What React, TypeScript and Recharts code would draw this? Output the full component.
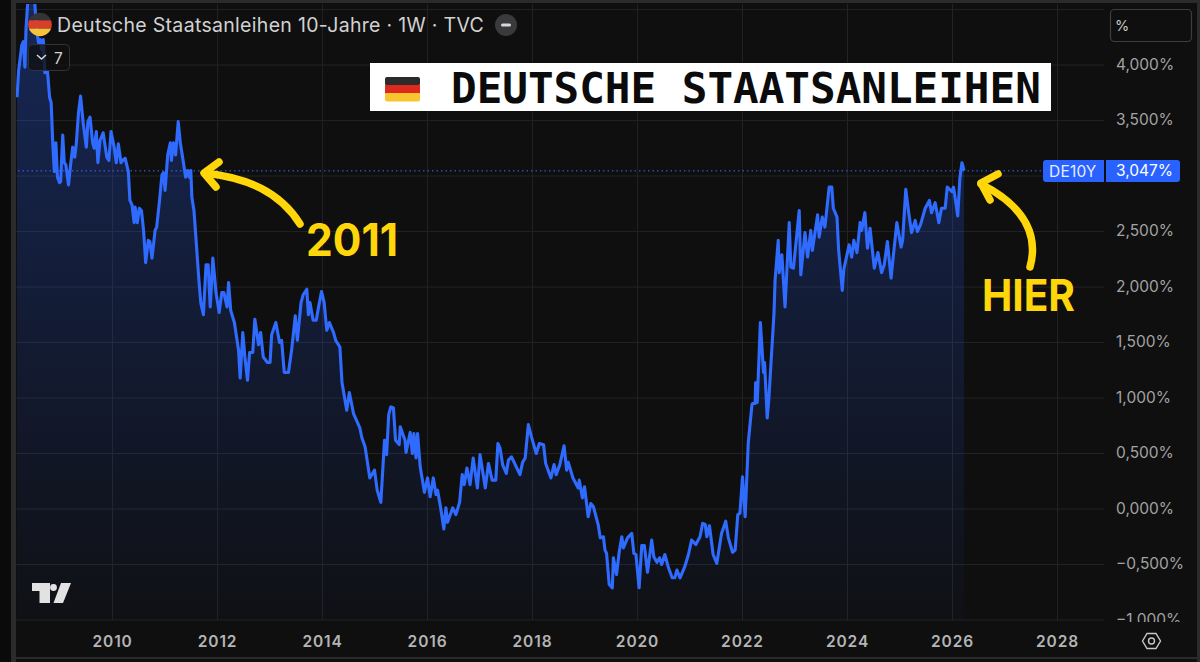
import {
  Area,
  CartesianGrid,
  ComposedChart,
  ReferenceLine,
  XAxis,
  YAxis,
} from "recharts"

const FONT = "Inter, 'Noto Sans', sans-serif"
const YELLOW = "#ffd60a"
const BLUE = "#2f6bff"

const YEAR_TICKS = [2010, 2012, 2014, 2016, 2018, 2020, 2022, 2024, 2026, 2028]
const YIELD_TICKS = [-1, -0.5, 0, 0.5, 1, 1.5, 2, 2.5, 3, 3.5, 4, 4.5]
const LAST_YIELD = 3.047

// decimal year of each reading
const dates = [
  2008.18, 2008.21, 2008.27, 2008.3, 2008.33, 2008.35, 2008.38, 2008.43, 2008.49, 2008.52,
  2008.56, 2008.59, 2008.62, 2008.65, 2008.68, 2008.71, 2008.76, 2008.8, 2008.83, 2008.86,
  2008.89, 2008.92, 2008.95, 2008.99, 2009.01, 2009.05, 2009.08, 2009.11, 2009.16, 2009.2,
  2009.24, 2009.28, 2009.31, 2009.35, 2009.39, 2009.44, 2009.5, 2009.53, 2009.57, 2009.62,
  2009.65, 2009.69, 2009.72, 2009.76, 2009.82, 2009.89, 2009.93, 2009.97, 2010.03, 2010.07,
  2010.11, 2010.16, 2010.19, 2010.24, 2010.3, 2010.33, 2010.37, 2010.41, 2010.43, 2010.47,
  2010.51, 2010.55, 2010.59, 2010.63, 2010.68, 2010.71, 2010.75, 2010.81, 2010.84, 2010.89,
  2010.94, 2010.97, 2011.0, 2011.05, 2011.1, 2011.12, 2011.16, 2011.2, 2011.25, 2011.29,
  2011.35, 2011.39, 2011.43, 2011.46, 2011.49, 2011.51, 2011.55, 2011.6, 2011.64, 2011.68,
  2011.73, 2011.78, 2011.82, 2011.86, 2011.91, 2011.97, 2012.03, 2012.08, 2012.12, 2012.18,
  2012.21, 2012.25, 2012.32, 2012.4, 2012.43, 2012.48, 2012.52, 2012.57, 2012.61, 2012.67,
  2012.71, 2012.78, 2012.82, 2012.87, 2012.95, 2013.0, 2013.03, 2013.11, 2013.18, 2013.22,
  2013.27, 2013.35, 2013.41, 2013.48, 2013.52, 2013.59, 2013.63, 2013.7, 2013.73, 2013.76,
  2013.82, 2013.88, 2013.92, 2013.98, 2014.03, 2014.08, 2014.13, 2014.21, 2014.25, 2014.33,
  2014.37, 2014.46, 2014.51, 2014.59, 2014.71, 2014.75, 2014.81, 2014.9, 2014.99, 2015.04,
  2015.11, 2015.18, 2015.22, 2015.26, 2015.3, 2015.35, 2015.39, 2015.46, 2015.48, 2015.57,
  2015.59, 2015.67, 2015.71, 2015.74, 2015.78, 2015.81, 2015.86, 2015.94, 2016.0, 2016.05,
  2016.11, 2016.16, 2016.19, 2016.25, 2016.31, 2016.35, 2016.38, 2016.48, 2016.54, 2016.61,
  2016.66, 2016.7, 2016.75, 2016.81, 2016.87, 2016.95, 2017.0, 2017.1, 2017.16, 2017.23,
  2017.3, 2017.34, 2017.38, 2017.43, 2017.5, 2017.54, 2017.6, 2017.67, 2017.76, 2017.81,
  2017.86, 2017.92, 2017.98, 2018.07, 2018.13, 2018.21, 2018.25, 2018.35, 2018.41, 2018.45,
  2018.52, 2018.6, 2018.65, 2018.68, 2018.77, 2018.87, 2018.89, 2018.95, 2018.99, 2019.06,
  2019.11, 2019.16, 2019.25, 2019.29, 2019.35, 2019.38, 2019.41, 2019.46, 2019.52, 2019.54,
  2019.6, 2019.65, 2019.7, 2019.73, 2019.81, 2019.89, 2019.93, 2019.97, 2020.03, 2020.08,
  2020.13, 2020.19, 2020.27, 2020.31, 2020.37, 2020.42, 2020.46, 2020.52, 2020.59, 2020.66,
  2020.71, 2020.75, 2020.81, 2020.9, 2020.97, 2021.03, 2021.11, 2021.19, 2021.24, 2021.29,
  2021.32, 2021.37, 2021.44, 2021.51, 2021.6, 2021.68, 2021.73, 2021.81, 2021.86, 2021.91,
  2021.95, 2022.0, 2022.05, 2022.11, 2022.18, 2022.19, 2022.24, 2022.25, 2022.28, 2022.34,
  2022.4, 2022.42, 2022.47, 2022.5, 2022.6, 2022.62, 2022.68, 2022.7, 2022.75, 2022.81,
  2022.89, 2022.92, 2022.97, 2023.08, 2023.11, 2023.19, 2023.24, 2023.3, 2023.33, 2023.43,
  2023.46, 2023.52, 2023.57, 2023.65, 2023.7, 2023.73, 2023.8, 2023.83, 2023.9, 2023.93,
  2024.03, 2024.08, 2024.12, 2024.18, 2024.24, 2024.27, 2024.33, 2024.38, 2024.43, 2024.51,
  2024.58, 2024.65, 2024.7, 2024.76, 2024.83, 2024.87, 2024.94, 2025.02, 2025.05, 2025.11,
  2025.16, 2025.22, 2025.29, 2025.33, 2025.39, 2025.48, 2025.56, 2025.6, 2025.67, 2025.74,
  2025.79, 2025.86, 2025.9, 2025.99, 2026.02, 2026.1, 2026.14, 2026.18, 2026.22,
]

const yields = [
  3.71, 3.95, 4.18, 4.21, 3.98, 4.32, 4.54, 4.68, 4.7, 4.54,
  4.29, 4.2, 4.23, 4.14, 4.23, 3.93, 3.94, 3.71, 3.66, 3.3,
  3.04, 3.3, 2.99, 2.94, 2.95, 3.37, 3.12, 3.1, 2.92, 3.1,
  3.26, 3.17, 3.3, 3.57, 3.72, 3.48, 3.26, 3.49, 3.53, 3.3,
  3.25, 3.4, 3.12, 3.32, 3.39, 3.17, 3.14, 3.4, 3.26, 3.12,
  3.29, 3.12, 3.14, 3.16, 3.04, 2.78, 2.74, 2.58, 2.72, 2.58,
  2.71, 2.69, 2.51, 2.22, 2.42, 2.41, 2.26, 2.51, 2.54, 2.76,
  3.01, 3.03, 2.87, 3.19, 3.3, 3.14, 3.3, 3.19, 3.49, 3.3,
  3.12, 2.99, 3.05, 2.99, 3.05, 2.81, 2.69, 2.36, 2.09, 1.86,
  1.75, 2.2, 2.2, 1.82, 2.26, 1.95, 1.77, 1.95, 1.95, 1.82,
  2.04, 1.79, 1.68, 1.43, 1.18, 1.59, 1.37, 1.16, 1.41, 1.41,
  1.71, 1.48, 1.59, 1.37, 1.32, 1.32, 1.57, 1.68, 1.5, 1.52,
  1.23, 1.23, 1.43, 1.74, 1.52, 1.86, 1.93, 1.98, 1.75, 1.86,
  1.7, 1.7, 1.81, 1.96, 1.86, 1.61, 1.68, 1.59, 1.52, 1.46,
  1.14, 0.89, 1.05, 0.86, 0.73, 0.64, 0.56, 0.28, 0.35, 0.17,
  0.06, 0.62, 0.49, 0.85, 0.92, 0.91, 0.62, 0.58, 0.74, 0.62,
  0.51, 0.69, 0.5, 0.68, 0.46, 0.68, 0.38, 0.15, 0.28, 0.11,
  0.28, 0.13, 0.17, 0.01, -0.18, 0.01, -0.12, 0.01, -0.05, 0.06,
  0.31, 0.22, 0.37, 0.22, 0.46, 0.19, 0.49, 0.19, 0.41, 0.26,
  0.26, 0.59, 0.55, 0.4, 0.32, 0.44, 0.47, 0.4, 0.31, 0.42,
  0.46, 0.76, 0.65, 0.5, 0.59, 0.58, 0.41, 0.28, 0.4, 0.31,
  0.4, 0.57, 0.35, 0.42, 0.28, 0.19, 0.26, 0.1, 0.2, -0.07,
  0.05, 0.02, -0.14, -0.26, -0.25, -0.37, -0.4, -0.68, -0.71, -0.44,
  -0.59, -0.39, -0.25, -0.35, -0.26, -0.22, -0.4, -0.41, -0.71, -0.33,
  -0.33, -0.57, -0.28, -0.43, -0.48, -0.44, -0.5, -0.41, -0.53, -0.62,
  -0.62, -0.55, -0.62, -0.52, -0.41, -0.28, -0.32, -0.25, -0.13, -0.14,
  -0.25, -0.15, -0.41, -0.49, -0.22, -0.11, -0.26, -0.39, -0.37, -0.05,
  -0.04, 0.29, -0.07, 0.6, 0.94, 0.95, 0.95, 1.14, 0.96, 1.68,
  1.23, 1.32, 0.82, 0.98, 1.77, 2.06, 2.42, 2.13, 2.29, 1.82,
  2.58, 2.18, 2.17, 2.69, 2.11, 2.49, 2.27, 2.51, 2.33, 2.65,
  2.45, 2.63, 2.54, 2.9, 2.9, 2.71, 2.63, 2.34, 1.97, 2.16,
  2.38, 2.27, 2.42, 2.31, 2.58, 2.51, 2.67, 2.35, 2.53, 2.17,
  2.31, 2.13, 2.2, 2.41, 2.08, 2.27, 2.58, 2.36, 2.42, 2.88,
  2.69, 2.49, 2.6, 2.5, 2.56, 2.71, 2.78, 2.67, 2.76, 2.58,
  2.71, 2.71, 2.9, 2.86, 2.9, 2.64, 2.98, 3.12, 3.05,
]

const data = dates.map((date, i) => ({ date, value: yields[i] }))

const formatYield = (v: number) =>
  `${v < 0 ? "\u2212" : ""}${Math.abs(v).toFixed(3).replace(".", ",")}%`

const YieldTick = ({ x, y, payload }: any) => {
  // 4,5 sits under the % button and 3,0 under the last value tag
  if (payload.value > 4 || payload.value === 3) return <g />
  return (
    <text
      x={x}
      y={y}
      dy="0.3em"
      fill="#a3a3a3"
      fontSize={15.5}
      fontFamily={FONT}
      textAnchor="start"
      clipPath="url(#yieldLabelClip)"
    >
      {formatYield(payload.value)}
    </text>
  )
}

const Strip = ({ style }: { style: React.CSSProperties }) => (
  <div style={{ position: "absolute", background: "#2b2b2c", ...style }} />
)

const Overlay = () => (
  <svg
    width={1200}
    height={662}
    style={{ position: "absolute", left: 0, top: 0, pointerEvents: "none" }}
  >
    <defs>
      <clipPath id="flagClip">
        <circle cx={40} cy={24.5} r={11.8} />
      </clipPath>
    </defs>

    {/* header flag */}
    <g clipPath="url(#flagClip)">
      <rect x={28} y={12} width={24} height={8.3} fill="#343436" />
      <rect x={28} y={20.3} width={24} height={8.3} fill="#d8402e" />
      <rect x={28} y={28.6} width={24} height={8.3} fill="#f6c23c" />
    </g>

    <text x={57} y={32} fill="#d2d2d2" fontSize={19.5} fontFamily={FONT} letterSpacing={0.31}>
      Deutsche Staatsanleihen 10-Jahre · 1W · TVC
    </text>

    <circle cx={506} cy={25} r={11} fill="#3a3a3c" />
    <rect x={501} y={23.5} width={10} height={3} rx={1.5} fill="#d8d8d8" />

    {/* collapsed indicators */}
    <rect x={28.5} y={44.5} width={41} height={26} rx={4} fill="#0f0f10" fillOpacity={0.78} stroke="#333335" />
    <path d="M37 55 L41.5 59 L46 55" fill="none" stroke="#d8d8d8" strokeWidth={1.5} />
    <text x={54} y={64} fill="#d2d2d2" fontSize={15.5} fontFamily={FONT}>
      7
    </text>

    {/* headline */}
    <rect x={370} y={63} width={681} height={48} fill="#fff" />
    <g>
      <rect x={385} y={77} width={35} height={8.5} rx={2} fill="#2b2b2b" />
      <rect x={385} y={85} width={35} height={8.5} fill="#de2a1e" />
      <rect x={385} y={93} width={35} height={8.5} rx={2} fill="#f7c52d" />
    </g>
    <text
      x={451}
      y={103}
      fill="#0b0b0b"
      fontSize={42.6}
      fontWeight={700}
      fontFamily="'DejaVu Sans Mono', monospace"
    >
      DEUTSCHE STAATSANLEIHEN
    </text>

    {/* price scale button */}
    <rect x={1110.5} y={9.5} width={81} height={32} rx={4} fill="none" stroke="#3d3d3f" strokeWidth={1.2} />
    <text x={1115} y={31} fill="#c8c8c8" fontSize={14.5} fontFamily={FONT}>
      %
    </text>

    {/* last value tag */}
    <path d="M1046 160 H1104 V182 H1046 a3 3 0 0 1 -3 -3 V163 a3 3 0 0 1 3 -3 Z" fill="#2962ff" />
    <path d="M1106 160 H1177 a3 3 0 0 1 3 3 V179 a3 3 0 0 1 -3 3 H1106 Z" fill="#2962ff" />
    <text x={1049} y={176.5} fill="#e8edff" fontSize={15.5} fontFamily={FONT} letterSpacing={0.2}>
      DE10Y
    </text>
    <text x={1116} y={176} fill="#fff" fontSize={15.5} fontFamily={FONT}>
      {formatYield(LAST_YIELD)}
    </text>

    {/* annotations */}
    <g fill="none" stroke={YELLOW} strokeWidth={7.5} strokeLinecap="round" strokeLinejoin="round">
      <path d="M300 224 C 280 192 248 178 205 173" />
      <path d="M219 162 L204 173 L216 187" />
      <path d="M1030 267 C 1038 238 1028 208 981 184" />
      <path d="M998 174 L981 183 L990 200" />
    </g>
    <text
      x={306}
      y={256}
      fill={YELLOW}
      fontSize={45}
      fontWeight={700}
      fontFamily={FONT}
      textLength={92}
      lengthAdjust="spacingAndGlyphs"
    >
      2011
    </text>
    <text
      x={982}
      y={311}
      fill={YELLOW}
      fontSize={44}
      fontWeight={700}
      fontFamily={FONT}
      textLength={93}
      lengthAdjust="spacingAndGlyphs"
    >
      HIER
    </text>

    {/* TradingView mark */}
    <path d="M32 583 H50 V603 H39.5 V591 H32 Z" fill="#e2e2e2" />
    <circle cx={53.5} cy={587.5} r={3.4} fill="#e2e2e2" />
    <path d="M61 583 H71 L63 603 H53.5 Z" fill="#e2e2e2" />

    {/* chart settings */}
    <path
      d="M1142.5 641 L1147 633.5 H1156 L1160.5 641 L1156 648.5 H1147 Z"
      fill="none"
      stroke="#c8c8c8"
      strokeWidth={1.4}
    />
    <circle cx={1151.5} cy={641} r={3} fill="none" stroke="#c8c8c8" strokeWidth={1.4} />
  </svg>
)

export default function App() {
  return (
    <div
      style={{
        position: "absolute",
        left: 0,
        top: 0,
        width: 1200,
        height: 662,
        overflow: "hidden",
        background: "#0f0f10",
      }}
    >
      <ComposedChart
        width={1200}
        height={662}
        data={data}
        margin={{ top: 4, right: 0, bottom: 0, left: 16 }}
      >
        <defs>
          <linearGradient id="yieldFill" x1="0" y1="0" x2="0" y2="1">
            <stop offset="0" stopColor="#2962ff" stopOpacity={0.3} />
            <stop offset="1" stopColor="#2962ff" stopOpacity={0.02} />
          </linearGradient>
          <clipPath id="yieldLabelClip">
            <rect x={1104} y={0} width={96} height={622} />
          </clipPath>
        </defs>
        <CartesianGrid stroke="#232325" strokeWidth={1} syncWithTicks />
        <XAxis
          dataKey="date"
          type="number"
          domain={[2008.16, 2028.886]}
          allowDataOverflow
          ticks={YEAR_TICKS}
          interval={0}
          height={42}
          axisLine={false}
          tickLine={false}
          tickMargin={10}
          tick={{ fill: "#b5b5b5", fontSize: 15.5, fontWeight: 600, fontFamily: FONT, letterSpacing: 0.9 }}
        />
        <YAxis
          orientation="right"
          type="number"
          domain={[-1, 4.55]}
          allowDataOverflow
          ticks={YIELD_TICKS}
          interval={0}
          width={96}
          axisLine={false}
          tickLine={false}
          tickMargin={6}
          tick={YieldTick}
        />
        <Area
          dataKey="value"
          type="linear"
          baseValue={-1}
          stroke={BLUE}
          strokeWidth={3.1}
          strokeLinejoin="round"
          fill="url(#yieldFill)"
          fillOpacity={1}
          dot={false}
          activeDot={false}
          isAnimationActive={false}
        />
        <ReferenceLine y={LAST_YIELD} stroke="#3a6cff" strokeDasharray="1.5 3" strokeWidth={1} />
      </ComposedChart>

      <div style={{ position: "absolute", left: 0, top: 0, width: 11, height: 662, background: "#0a0a0b" }} />
      <Strip style={{ left: 11, top: 0, width: 5, height: 662 }} />
      <Strip style={{ left: 11, top: 0, width: 1189, height: 3 }} />
      <Strip style={{ left: 16, top: 657, width: 1184, height: 2 }} />
      <Strip style={{ left: 1197, top: 0, width: 3, height: 662 }} />

      <Overlay />
    </div>
  )
}
